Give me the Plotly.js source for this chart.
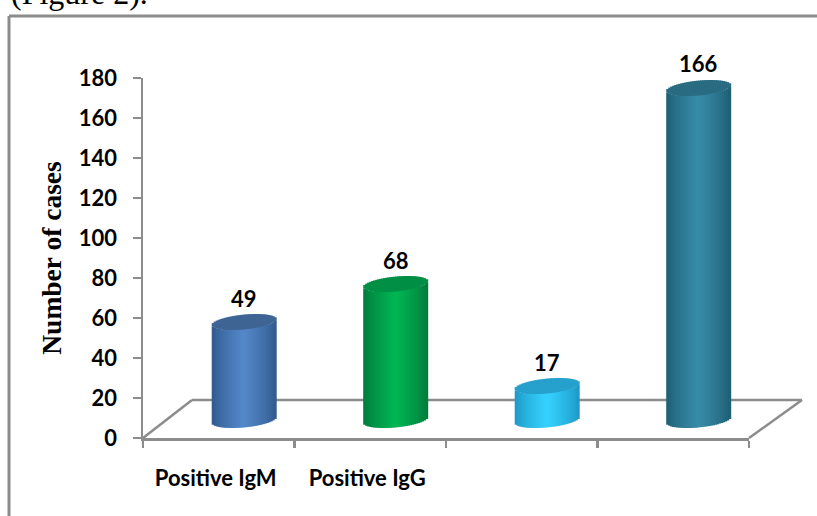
<!DOCTYPE html>
<html><head><meta charset="utf-8">
<script src="https://cdn.plot.ly/plotly-3.0.1.min.js"></script>
<style>html,body{margin:0;padding:0;background:#fff;overflow:hidden}#c{width:817px;height:516px}</style>
</head><body><div id="c"></div>
<script>
const categories = ["Positive IgM", "Positive IgG", " ", "  "];
const values = [49, 68, 17, 166];
const edgeColors = [[47,88,138],[0,120,58],[28,150,196],[30,92,114]];
const midColors = [[84,136,202],[0,182,84],[54,210,255],[56,140,168]];
const capColors = ["#3e6594","#008f45","#26a0cc","#2a6b80"];
const yTicks = [0,20,40,60,80,100,120,140,160,180];

const GRAY = "#8c8c8c";
const positions = categories.map((_, i) => i);
const BAR_SHIFT = 0.168, BAR_WIDTH = 0.4224, FLOOR = 9, TILT = 1.5, THICK = 3.7, STRIPS = 32;
const YMAX = 180;

const traces = [];
traces.push({type:"bar", x:positions.map(p=>p+BAR_SHIFT), y:values, base:values.map(()=>FLOOR),
  width:BAR_WIDTH*0.68, marker:{color:midColors.map(c=>`rgb(${c})`)}, cliponaxis:false, hoverinfo:"skip", showlegend:false});
values.forEach((v,i)=>{
  const xs=[], bases=[], sizes=[], cols=[], capBases=[], capSizes=[];
  for(let k=0;k<STRIPS;k++){
    const u=-1+(2*k+1)/STRIPS, s=Math.sqrt(1-u*u);
    xs.push(positions[i]+BAR_SHIFT+u*BAR_WIDTH/2);
    const low=FLOOR+TILT*u-THICK*s;
    bases.push(low); sizes.push(v);
    capBases.push(low+v); capSizes.push(2*THICK*s);
    const t=Math.pow(Math.max(0,1-Math.abs(u)),0.75);
    cols.push(`rgb(${edgeColors[i].map((e,j)=>Math.round(e+(midColors[i][j]-e)*t))})`);
  }
  const w=BAR_WIDTH/STRIPS*1.5;
  traces.push({type:"bar",x:xs,y:sizes,base:bases,width:w,marker:{color:cols,line:{width:0}},cliponaxis:false,hoverinfo:"skip",showlegend:false});
  traces.push({type:"bar",x:xs,y:capSizes,base:capBases,width:w,marker:{color:capColors[i],line:{width:0}},cliponaxis:false,hoverinfo:"skip",showlegend:false});
});

const pw=606, ph=360;
const px=x=>(x-143)/pw, py=y=>(438-y)/ph;
const seg=(x0,y0,x1,y1,w)=>({type:"line",xref:"paper",yref:"paper",x0:px(x0),y0:py(y0),x1:px(x1),y1:py(y1),layer:"below",line:{color:GRAY,width:w||2.5}});

const layout={
  width:817,height:516,margin:{l:143,r:68,t:78,b:78,pad:0},
  paper_bgcolor:"#fff",plot_bgcolor:"rgba(0,0,0,0)",barmode:"overlay",showlegend:false,
  xaxis:{type:"linear",range:[-0.5,3.5],tickmode:"array",tickvals:positions.map(p=>p-0.02),ticktext:categories,ticks:"",ticklabelstandoff:19,
    showline:true,linecolor:GRAY,linewidth:2.5,showgrid:false,zeroline:false,
    tickfont:{family:"Lato",size:22,color:"#000",weight:"bold"},
    minor:{tick0:-0.5,dtick:1,ticks:"outside",ticklen:7,tickwidth:2.5,tickcolor:GRAY,showgrid:false}},
  yaxis:{range:[0,YMAX],tickmode:"array",tickvals:yTicks,ticks:"outside",ticklen:8,tickwidth:2.5,tickcolor:GRAY,
    showline:true,linecolor:GRAY,linewidth:2.5,showgrid:false,zeroline:false,ticklabelstandoff:11,
    tickfont:{family:"Lato",size:22,color:"#000",weight:"bold"},
    title:{text:"Number of cases",standoff:9,font:{family:"Liberation Serif",size:27.5,color:"#000",weight:"bold"}}},
  shapes:[
    seg(143,438,192,400), seg(192,400,802,400), seg(802,400,749,438),
    seg(9,516,9,16,3), seg(9,16,817,16,3)
  ],
  annotations:[
    ...values.map((v,i)=>({xref:"x",yref:"paper",x:positions[i]+BAR_SHIFT,y:(v+21)/YMAX,xanchor:"center",yanchor:"middle",showarrow:false,
      text:String(v),font:{family:"Lato",size:22,color:"#000",weight:"bold"}})),
    {xref:"paper",yref:"paper",x:px(9),y:py(3),xanchor:"left",yanchor:"bottom",yshift:-10,showarrow:false,align:"left",
    text:"(Figure 2).",font:{family:"Liberation Serif",size:32,color:"#000"}}]
};
Plotly.newPlot("c",traces,layout,{displayModeBar:false,staticPlot:true});
</script></body></html>
